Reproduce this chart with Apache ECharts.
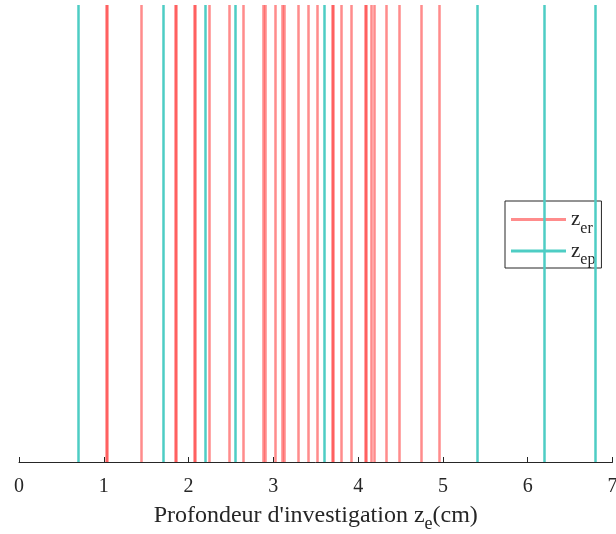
<!DOCTYPE html>
<html>
<head>
<meta charset="utf-8">
<script src="https://cdn.jsdelivr.net/npm/echarts@6/dist/echarts.min.js"></script>
<style>html,body{margin:0;padding:0;background:#fff}#c{width:616px;height:534px}</style>
</head>
<body>
<div id="c"></div>
<script>
// Depth values (cm)
var zer = [1.03, 1.045, 1.443, 1.84, 1.855, 2.07, 2.082, 2.242, 2.481, 2.637, 2.88, 2.9,
           3.024, 3.105, 3.125, 3.288, 3.413, 3.519, 3.69, 3.705, 3.799, 3.92, 4.085, 4.1,
           4.153, 4.188, 4.333, 4.491, 4.739, 4.958];
var zep = [0.70, 1.70, 2.20, 2.55, 3.60, 5.40, 6.20, 6.80];
var xTicks = [0, 1, 2, 3, 4, 5, 6, 7];
var seriesNames = ['er', 'ep'];

var chart = echarts.init(document.getElementById('c'));
var serif = 'Liberation Serif';
var txt = '#262626';
var redCol = 'rgba(255,25,25,0.5)';
var tealCol = '#4ecdc4';

function vlines(vals) {
  return vals.map(function (v) { return { xAxis: v }; });
}

chart.setOption({
  animation: false,
  grid: { left: 19, right: 3.5, top: 5, bottom: 72, outerBoundsMode: 'none', containLabel: false },
  xAxis: {
    type: 'value', min: xTicks[0], max: xTicks[xTicks.length - 1], interval: 1,
    axisLine: { show: true, lineStyle: { color: txt, width: 1 } },
    axisTick: { show: true, inside: true, length: 5, lineStyle: { color: txt } },
    axisLabel: { color: txt, fontFamily: serif, fontSize: 20, margin: 15 },
    splitLine: { show: false },
    name: 'Profondeur d\'investigation z{sub|e}(cm)',
    nameLocation: 'middle', nameGap: 37,
    nameTextStyle: {
      color: txt, fontFamily: serif, fontSize: 24,
      rich: { sub: { fontFamily: serif, fontSize: 18, color: txt, padding: [16, 0, 0, 0] } }
    }
  },
  yAxis: { type: 'value', show: false, min: 0, max: 1 },
  legend: {
    orient: 'vertical', left: 505, top: 201,
    padding: [8, 6, 0, 6], itemGap: 4,
    itemWidth: 55, itemHeight: 3, icon: 'rect',
    borderColor: txt, borderWidth: 1, backgroundColor: '#fff',
    formatter: function (n) { return '{z|z}{s|' + n + '}'; },
    textStyle: {
      color: txt,
      rich: {
        z: { fontFamily: serif, fontSize: 21, color: txt },
        s: { fontFamily: serif, fontSize: 16, color: txt, padding: [18, 0, 0, 0] }
      }
    },
    data: seriesNames
  },
  series: [
    {
      name: seriesNames[0], type: 'line', data: [], color: redCol, z: 3,
      markLine: { silent: true, symbol: ['none', 'none'], label: { show: false },
        lineStyle: { color: redCol, width: 2.5, type: 'solid' }, data: vlines(zer) }
    },
    {
      name: seriesNames[1], type: 'line', data: [], color: tealCol, z: 2,
      markLine: { silent: true, symbol: ['none', 'none'], label: { show: false },
        lineStyle: { color: tealCol, width: 2.5, type: 'solid' }, data: vlines(zep) }
    }
  ]
});
</script>
</body>
</html>
